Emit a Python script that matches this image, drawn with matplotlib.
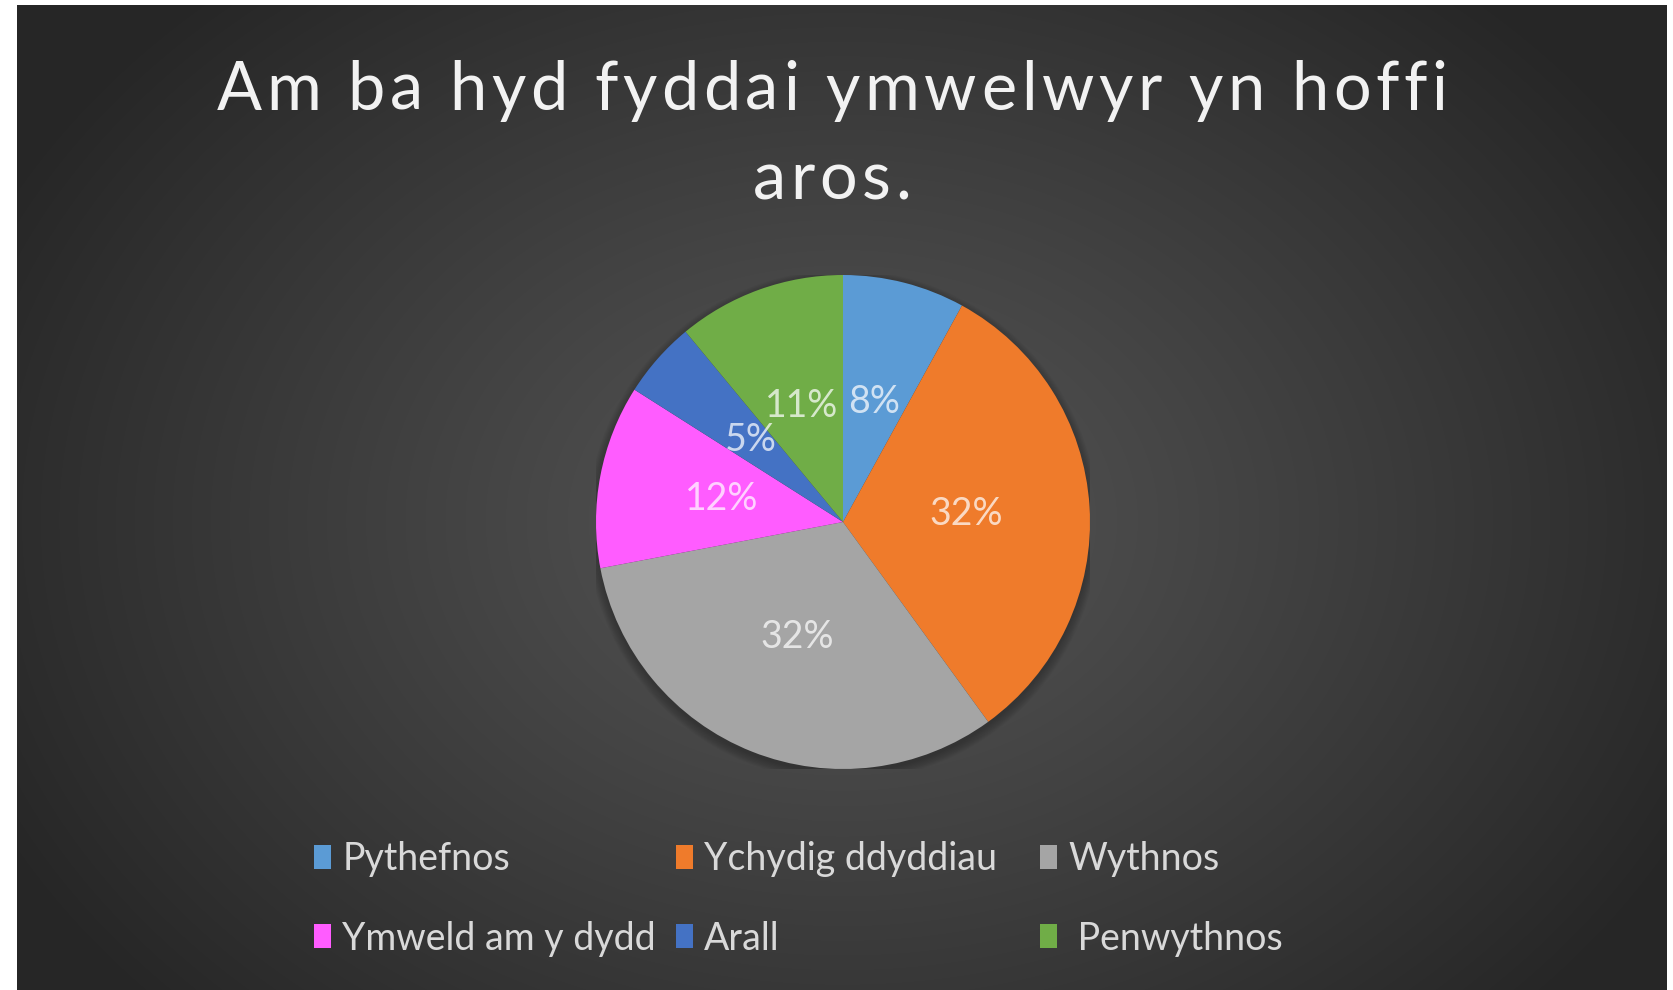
import numpy as np
import matplotlib
matplotlib.use("Agg")
import matplotlib.pyplot as plt
from matplotlib.patches import Patch, Circle
from matplotlib.font_manager import FontProperties

# ---- data ----
categories = ["Pythefnos", "Ychydig ddyddiau", "Wythnos",
              "Ymweld am y dydd", "Arall", " Penwythnos"]
values = [8, 32, 32, 12, 5, 11]
labels_pct = ["8%", "32%", "32%", "12%", "5%", "11%"]
colors = ["#5B9BD5", "#EF7B2B", "#A5A5A5", "#FF5CFF", "#4472C4", "#70AD47"]
title_line1 = "Am ba hyd fyddai ymwelwyr yn hoffi"
title_line2 = "aros."

W, H = 1673, 990
fig = plt.figure(figsize=(W / 100, H / 100), dpi=100, facecolor="white")
renderer = fig.canvas.get_renderer()

# ---- dark background with radial gradient ----
x0, x1, y0, y1 = 17, 1667, 5, 990
bg = fig.add_axes([x0 / W, 0, (x1 - x0) / W, (y1 - y0) / H])
bg.set_axis_off()
yy, xx = np.mgrid[y0:y1, x0:x1]
cx, cy = 842, 520
d = np.sqrt(((xx - cx) / 950.0) ** 2 + ((yy - cy) / 720.0) ** 2)
d = np.clip(d, 0, 1)
v = 0x55 - (0x55 - 0x26) * d ** 1.1
img = np.dstack([v, v, v]) / 255.0
bg.imshow(img, aspect="auto", extent=[0, 1, 0, 1], origin="upper")
bg.set_xlim(0, 1)
bg.set_ylim(0, 1)

# ---- pie ----
R = 247
pcx, pcy = 843, 522
ax = fig.add_axes([(pcx - R) / W, (H - pcy - R) / H, 2 * R / W, 2 * R / H])
ax.set_axis_off()
# soft shadow
for a in np.linspace(0, 1, 8):
    ax.add_patch(Circle((0.0, -0.015), 1.0 + 0.035 * (1 - a), color="black",
                        alpha=0.03, lw=0, zorder=0))
wedges, texts = ax.pie(values, colors=colors, startangle=90, counterclock=False,
                       radius=1.0, labels=labels_pct, labeldistance=0.5,
                       wedgeprops=dict(linewidth=0),
                       textprops=dict(color="white", alpha=0.72, fontsize=27,
                                      family="Lato"))
for w in wedges:
    w.set_zorder(2)
for t in texts:
    t.set_ha("center")
    t.set_va("center")
    t.set_zorder(3)
ax.set_xlim(-1, 1)
ax.set_ylim(-1, 1)
ax.set_aspect("equal")

# ---- title with letter spacing ----
tprop = FontProperties(family="Lato", size=48)


def tracked_text(s, xc, ybase, target_width, track=None):
    full_w = renderer.get_text_width_height_descent(s, tprop, ismath=False)[0]
    if track is None:
        track = (target_width - full_w) / max(len(s) - 1, 1)
    total = full_w + track * (len(s) - 1)
    xs = xc - total / 2
    for i, ch in enumerate(s):
        adv = renderer.get_text_width_height_descent(s[:i], tprop, ismath=False)[0] if i else 0
        if ch == " ":
            continue
        fig.text((xs + adv + i * track) / W, (H - ybase) / H, ch, ha="left",
                 va="baseline", color="#F2F2F2", fontproperties=tprop)
    return track


trk = tracked_text(title_line1, 832, 110, 1231)
tracked_text(title_line2, 832, 199, None, track=trk)

# ---- legend: equal-width columns, row-wise order ----
handles = [Patch(facecolor=c, edgecolor="none") for c in colors]
col_x = [314, 676, 1040]
row_mid_y = 899
for j in range(3):
    idx = [j, j + 3]
    leg = fig.legend([handles[i] for i in idx], [categories[i] for i in idx],
                     ncol=1, loc="center left",
                     bbox_to_anchor=(col_x[j] / W, (H - row_mid_y) / H),
                     frameon=False, handlelength=0.45, handleheight=0.6,
                     handletextpad=0.3, labelspacing=1.15, borderpad=0,
                     borderaxespad=0, prop=dict(family="Lato", size=27))
    for t in leg.get_texts():
        t.set_color("#D9D9D9")

fig.savefig("out.png", dpi=100, facecolor="white")
